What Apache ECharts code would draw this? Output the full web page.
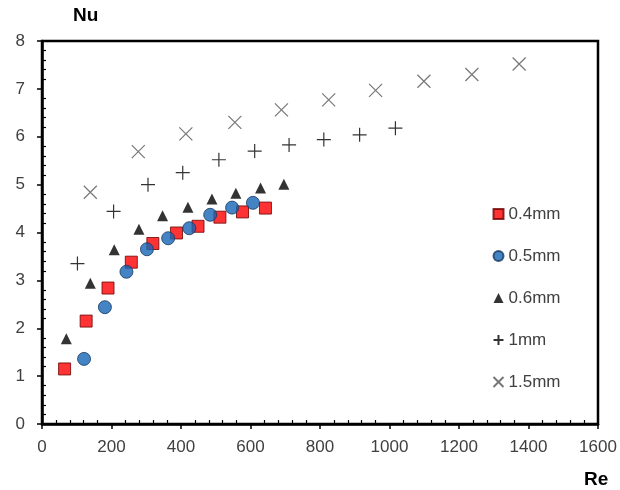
<!DOCTYPE html>
<html><head><meta charset="utf-8">
<script src="https://cdn.jsdelivr.net/npm/echarts@6/dist/echarts.min.js"></script>
<style>html,body{margin:0;padding:0;background:#fff}#c{width:620px;height:490px}</style>
</head><body><div id="c"></div>
<script>
const re04 = [65, 127, 190, 257, 319, 387, 449, 512, 577, 643];
const nu04 = [1.15, 2.15, 2.84, 3.38, 3.77, 3.99, 4.13, 4.32, 4.43, 4.51];
const re05 = [121, 181, 243, 302, 363, 424, 484, 547, 607];
const nu05 = [1.36, 2.44, 3.18, 3.65, 3.88, 4.09, 4.37, 4.52, 4.62];
const re06 = [70, 139, 208, 279, 347, 420, 489, 558, 629, 696];
const nu06 = [1.78, 2.94, 3.64, 4.07, 4.35, 4.53, 4.70, 4.82, 4.93, 5.01];
const re1 = [102, 206, 305, 405, 509, 612, 711, 811, 914, 1017];
const nu1 = [3.35, 4.44, 5.00, 5.25, 5.52, 5.70, 5.83, 5.94, 6.04, 6.18];
const re15 = [139, 277, 414, 555, 689, 825, 960, 1099, 1237, 1373];
const nu15 = [4.84, 5.69, 6.06, 6.30, 6.56, 6.77, 6.97, 7.16, 7.30, 7.52];
const names = ['0.4mm', '0.5mm', '0.6mm', '1mm', '1.5mm'];
const xTicks = {min: 0, max: 1600, interval: 200};
const yTicks = {min: 0, max: 8, interval: 1};

const zip = (a, b) => a.map((v, i) => [v, b[i]]);
const FONT = 'Liberation Sans, Arial, sans-serif';
const PLUS = 'path://M0,5L10,5M5,0L5,10';
const CROSS = 'path://M0,0L10,10M10,0L0,10';

const chart = echarts.init(document.getElementById('c'), null, {renderer: 'canvas'});
const axisBase = (t) => ({
  type: 'value', min: t.min, max: t.max, interval: t.interval,
  splitLine: {show: false},
  axisLine: {show: true, lineStyle: {color: '#000', width: 2.5}},
});
chart.setOption({
  animation: false,
  grid: {left: 42, right: 22, top: 41, bottom: 66, show: true, borderColor: '#000', borderWidth: 2.5, backgroundColor: 'transparent'},
  title: [
    {text: 'Nu', left: 68, top: 1, textStyle: {fontFamily: FONT, fontSize: 19, fontWeight: 'bold', color: '#000'}},
    {text: 'Re', left: 579, top: 465, textStyle: {fontFamily: FONT, fontSize: 19, fontWeight: 'bold', color: '#000'}}
  ],
  xAxis: [
    Object.assign(axisBase(xTicks), {
      position: 'bottom',
      axisTick: {show: true, inside: false, length: 5, lineStyle: {color: '#000', width: 1.5}},
      axisLabel: {fontFamily: FONT, fontSize: 17, color: '#404040', margin: 15, formatter: v => String(v)}
    }),
    Object.assign(axisBase(xTicks), {
      position: 'bottom', axisLine: {show: false},
      axisTick: {show: true, inside: true, length: 0, lineStyle: {width: 0}},
      axisLabel: {show: false},
      minorTick: {show: true, splitNumber: 5, length: 4, lineStyle: {color: '#000', width: 1.2}}
    })
  ],
  yAxis: [
    Object.assign(axisBase(yTicks), {
      position: 'left',
      axisTick: {show: true, inside: false, length: 5, lineStyle: {color: '#000', width: 1.5}},
      axisLabel: {fontFamily: FONT, fontSize: 17, color: '#404040', margin: 17, formatter: v => String(v)}
    }),
    Object.assign(axisBase(yTicks), {
      position: 'left', axisLine: {show: false},
      axisTick: {show: true, inside: true, length: 0, lineStyle: {width: 0}},
      axisLabel: {show: false},
      minorTick: {show: true, splitNumber: 5, length: 4, lineStyle: {color: '#000', width: 1.2}}
    })
  ],
  legend: {
    orient: 'vertical', left: 491, top: 205.5, itemGap: 25, padding: 0,
    itemWidth: 10, itemHeight: 10,
    textStyle: {fontFamily: FONT, fontSize: 17, lineHeight: 17, color: '#404040'},
    data: names
  },
  series: [
    {name: names[0], type: 'scatter', data: zip(re04, nu04), symbol: 'rect', symbolSize: 12,
     itemStyle: {color: '#ff0000', borderColor: '#6b0000', borderWidth: 1}},
    {name: names[1], type: 'scatter', data: zip(re05, nu05), symbol: 'circle', symbolSize: 13,
     itemStyle: {color: '#1565b5', borderColor: '#17375e', borderWidth: 1}},
    {name: names[2], type: 'scatter', data: zip(re06, nu06), symbol: 'triangle', symbolSize: 11,
     itemStyle: {color: '#000'}},
    {name: names[3], type: 'scatter', data: zip(re1, nu1), symbol: PLUS, symbolSize: 14,
     itemStyle: {color: 'none', borderColor: '#000', borderWidth: 1.2}},
    {name: names[4], type: 'scatter', data: zip(re15, nu15), symbol: CROSS, symbolSize: 13,
     itemStyle: {color: 'none', borderColor: '#555', borderWidth: 1.2}}
  ]
});
</script></body></html>
